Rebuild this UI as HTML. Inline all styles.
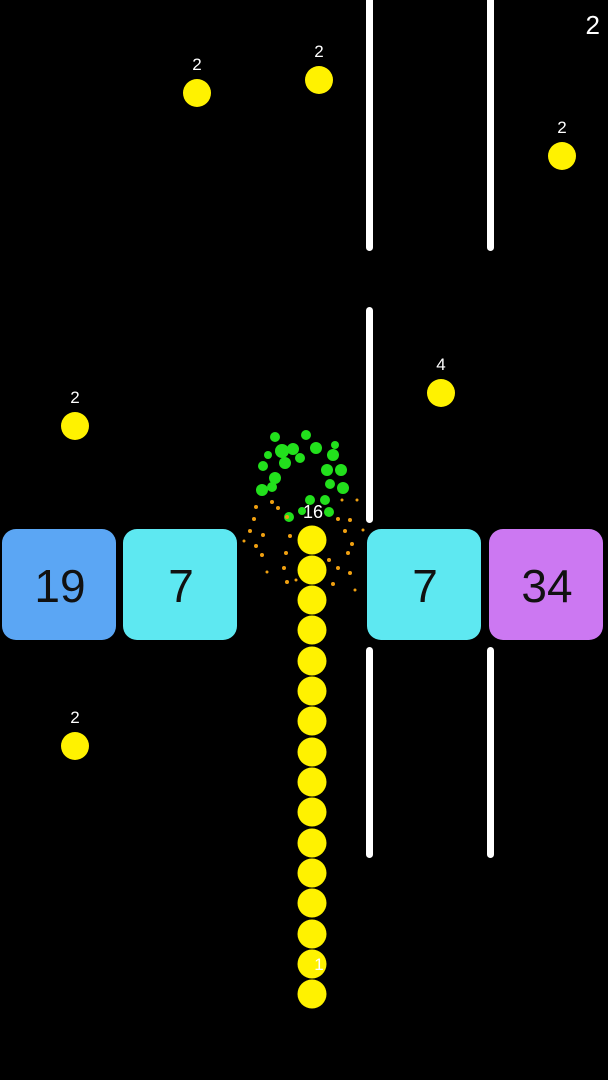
<!DOCTYPE html>
<html><head><meta charset="utf-8"><style>
html,body{margin:0;padding:0;background:#000;width:608px;height:1080px;overflow:hidden}
svg{display:block}
text{font-family:"Liberation Sans",sans-serif}
</style></head><body>
<svg width="608" height="1080" viewBox="0 0 608 1080" xmlns="http://www.w3.org/2000/svg">
<rect width="608" height="1080" fill="#000"/>
<!-- walls -->
<g fill="#fff">
<rect x="366" y="-10" width="7" height="261" rx="3.5"/>
<rect x="487" y="-10" width="7" height="261" rx="3.5"/>
<rect x="366" y="307" width="7" height="216" rx="3.5"/>
<rect x="366" y="647" width="7" height="211" rx="3.5"/>
<rect x="487" y="647" width="7" height="211" rx="3.5"/>
</g>
<!-- blocks -->
<rect x="2" y="529" width="114" height="111" rx="14" fill="#5ba6f4"/>
<rect x="123" y="529" width="114" height="111" rx="14" fill="#5ee8f1"/>
<rect x="367" y="529" width="114" height="111" rx="14" fill="#5ee8f1"/>
<rect x="489" y="529" width="114" height="111" rx="14" fill="#cc78f2"/>
<g font-size="46" fill="#111" text-anchor="middle">
<text x="60" y="602">19</text>
<text x="181" y="602">7</text>
<text x="425" y="602">7</text>
<text x="547" y="602">34</text>
</g>
<!-- score -->
<text x="600" y="34" font-size="26" fill="#fff" text-anchor="end">2</text>
<!-- balls -->
<g fill="#fff200">
<circle cx="197" cy="93" r="14"/>
<circle cx="319" cy="80" r="14"/>
<circle cx="562" cy="156" r="14"/>
<circle cx="441" cy="393" r="14"/>
<circle cx="75" cy="426" r="14"/>
<circle cx="75" cy="746" r="14"/>
</g>
<g font-size="17" fill="#fff" text-anchor="middle">
<text x="197" y="70">2</text>
<text x="319" y="57">2</text>
<text x="562" y="133">2</text>
<text x="441" y="370">4</text>
<text x="75" y="403">2</text>
<text x="75" y="723">2</text>
</g>
<!-- green particles -->
<g fill="#22e01c">
<circle cx="275" cy="437" r="5"/><circle cx="306" cy="435" r="5"/><circle cx="282" cy="451" r="7"/>
<circle cx="293" cy="449" r="6"/><circle cx="316" cy="448" r="6"/><circle cx="333" cy="455" r="6"/>
<circle cx="285" cy="463" r="6"/><circle cx="263" cy="466" r="5"/><circle cx="327" cy="470" r="6"/>
<circle cx="341" cy="470" r="6"/><circle cx="275" cy="478" r="6"/><circle cx="262" cy="490" r="6"/>
<circle cx="272" cy="487" r="5"/><circle cx="330" cy="484" r="5"/><circle cx="343" cy="488" r="6"/>
<circle cx="300" cy="458" r="5"/><circle cx="310" cy="500" r="5"/><circle cx="325" cy="500" r="5"/>
<circle cx="329" cy="512" r="5"/><circle cx="289" cy="517" r="5"/><circle cx="302" cy="511" r="4"/>
<circle cx="335" cy="445" r="4"/><circle cx="268" cy="455" r="4"/>
</g>
<!-- orange particles -->
<g fill="#f0a010">
<circle cx="272" cy="502" r="2"/><circle cx="278" cy="508" r="2"/><circle cx="256" cy="507" r="2"/>
<circle cx="254" cy="519" r="2"/><circle cx="250" cy="531" r="2"/><circle cx="263" cy="535" r="2"/>
<circle cx="287" cy="517" r="2"/><circle cx="290" cy="536" r="2"/><circle cx="286" cy="553" r="2"/>
<circle cx="284" cy="568" r="2"/><circle cx="287" cy="582" r="2"/><circle cx="256" cy="546" r="2"/>
<circle cx="262" cy="555" r="2"/><circle cx="350" cy="520" r="2"/><circle cx="345" cy="531" r="2"/>
<circle cx="352" cy="544" r="2"/><circle cx="348" cy="553" r="2"/><circle cx="338" cy="568" r="2"/>
<circle cx="350" cy="573" r="2"/><circle cx="333" cy="584" r="2"/><circle cx="329" cy="560" r="2"/>
<circle cx="338" cy="519" r="2"/><circle cx="357" cy="500" r="1.5"/><circle cx="244" cy="541" r="1.5"/>
<circle cx="267" cy="572" r="1.5"/><circle cx="355" cy="590" r="1.5"/><circle cx="296" cy="580" r="1.5"/>
<circle cx="363" cy="530" r="1.5"/><circle cx="342" cy="500" r="1.5"/>
</g>
<!-- snake -->
<g fill="#fff200">
<circle cx="312" cy="540" r="14.5"/><circle cx="312" cy="570" r="14.5"/><circle cx="312" cy="600" r="14.5"/>
<circle cx="312" cy="630" r="14.5"/><circle cx="312" cy="661" r="14.5"/><circle cx="312" cy="691" r="14.5"/>
<circle cx="312" cy="721" r="14.5"/><circle cx="312" cy="752" r="14.5"/><circle cx="312" cy="782" r="14.5"/>
<circle cx="312" cy="812" r="14.5"/><circle cx="312" cy="843" r="14.5"/><circle cx="312" cy="873" r="14.5"/>
<circle cx="312" cy="903" r="14.5"/><circle cx="312" cy="934" r="14.5"/><circle cx="312" cy="964" r="14.5"/>
<circle cx="312" cy="994" r="14.5"/>
</g>
<text x="313" y="518" font-size="18" fill="#fff" text-anchor="middle">16</text>
<text x="319" y="970" font-size="17" fill="#fff" text-anchor="middle">1</text>
</svg>
</body></html>
